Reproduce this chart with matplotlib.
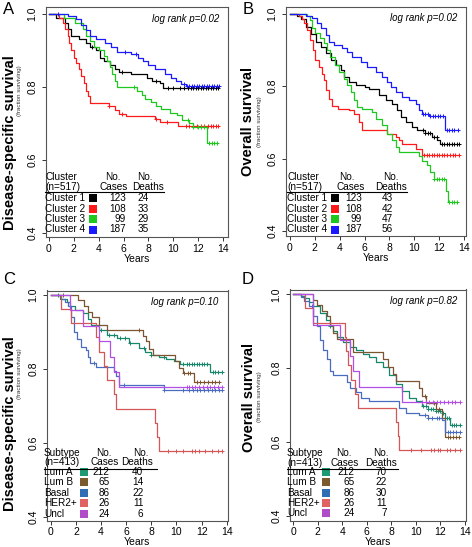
import numpy as np
import matplotlib
matplotlib.use("Agg")
import matplotlib.pyplot as plt
from matplotlib.patches import Rectangle

plt.rcParams['font.family'] = ['Liberation Sans', 'DejaVu Sans']

# ---- panel A: disease-specific survival by cluster ----
A_C1_T = [0.6, 1.3, 1.5, 1.8, 2.4, 3.0, 3.3, 3.8, 4.1, 4.4, 4.9, 5.3, 5.6, 6.6, 7.9, 8.3, 8.9, 9.2]
A_C1_S = [0.99, 0.975, 0.96, 0.94, 0.93, 0.92, 0.91, 0.90, 0.88, 0.87, 0.86, 0.85, 0.842, 0.835, 0.825, 0.817, 0.81, 0.798]
A_C1_CENS = [3.5, 5.9, 8.6, 9.6, 10.0, 10.5, 10.9, 11.2, 11.4, 11.6, 11.8, 12.0, 12.2, 12.4, 12.6, 12.8, 13.0, 13.2, 13.4, 13.6]
A_C2_T = [0.8, 1.1, 1.3, 1.5, 1.65, 1.8, 2.0, 2.2, 2.4, 2.6, 2.8, 3.0, 3.15, 3.3, 4.8, 5.3, 5.6, 6.2, 8.5, 8.9, 10.4]
A_C2_S = [0.99, 0.975, 0.96, 0.94, 0.92, 0.90, 0.88, 0.865, 0.85, 0.83, 0.81, 0.79, 0.775, 0.757, 0.748, 0.738, 0.727, 0.72, 0.712, 0.703, 0.692]
A_C2_CENS = [4.8, 5.9, 8.6, 9.5, 11.0, 11.3, 11.6, 11.9, 12.2, 12.5, 12.8, 13.0, 13.2, 13.4, 13.6]
A_C3_T = [1.2, 2.1, 2.7, 3.0, 3.3, 3.6, 4.0, 4.4, 4.7, 4.9, 5.1, 5.3, 5.45, 7.1, 7.5, 7.7, 8.2, 8.6, 9.0, 9.7, 10.3, 10.7, 11.3, 11.6, 12.7]
A_C3_S = [0.99, 0.975, 0.958, 0.94, 0.925, 0.91, 0.90, 0.885, 0.87, 0.855, 0.835, 0.815, 0.80, 0.79, 0.778, 0.768, 0.758, 0.748, 0.74, 0.73, 0.722, 0.71, 0.70, 0.69, 0.647]
A_C3_CENS = [6.8, 11.2, 11.6, 12.0, 12.2, 12.5, 12.9, 13.1, 13.3, 13.5]
A_C4_T = [1.5, 2.2, 2.6, 3.0, 3.3, 3.8, 4.5, 5.0, 5.5, 6.6, 7.2, 7.6, 8.0, 8.5, 9.3, 9.8, 10.2, 10.6, 11.0]
A_C4_S = [0.995, 0.985, 0.97, 0.955, 0.94, 0.93, 0.92, 0.91, 0.897, 0.89, 0.88, 0.87, 0.86, 0.85, 0.835, 0.825, 0.815, 0.808, 0.803]
A_C4_CENS = [0.7, 6.1, 7.0, 10.9, 11.1, 11.3, 11.5, 11.7, 11.9, 12.1, 12.3, 12.5, 12.7, 12.9, 13.1, 13.3, 13.5, 13.7]

# ---- panel B: overall survival by cluster ----
B_C1_T = [0.6, 0.9, 1.3, 1.7, 2.1, 2.5, 2.9, 3.3, 3.7, 4.1, 4.35, 4.75, 5.3, 6.0, 6.35, 7.2, 7.7, 8.2, 8.6, 8.9, 9.3, 9.8, 10.2, 10.9, 11.4, 11.85, 12.05]
B_C1_S = [0.995, 0.985, 0.965, 0.945, 0.923, 0.909, 0.891, 0.872, 0.858, 0.844, 0.826, 0.812, 0.803, 0.798, 0.791, 0.775, 0.761, 0.752, 0.733, 0.715, 0.70, 0.687, 0.678, 0.67, 0.661, 0.65, 0.641]
B_C1_CENS = [10.7, 10.9, 11.1, 11.3, 11.6, 11.8, 12.2, 12.4, 12.6, 12.8, 13.0, 13.2, 13.4, 13.6]
B_C2_T = [0.75, 1.0, 1.15, 1.4, 1.65, 1.85, 2.05, 2.3, 2.55, 2.75, 2.9, 3.1, 3.4, 3.9, 4.75, 5.15, 5.55, 5.8, 7.8, 8.5, 8.8, 9.0, 10.1, 10.65]
B_C2_S = [0.995, 0.985, 0.974, 0.956, 0.928, 0.90, 0.872, 0.854, 0.835, 0.817, 0.789, 0.766, 0.744, 0.738, 0.733, 0.724, 0.70, 0.68, 0.668, 0.66, 0.65, 0.641, 0.627, 0.611]
B_C2_CENS = [10.8, 11.0, 11.2, 11.4, 11.6, 11.8, 12.0, 12.2, 12.4, 12.6, 12.9, 13.1, 13.3, 13.6]
B_C3_T = [1.4, 1.6, 1.8, 2.05, 2.45, 2.75, 3.0, 3.25, 3.65, 3.95, 4.35, 4.6, 4.9, 5.15, 5.4, 5.8, 6.6, 6.9, 7.4, 7.8, 8.2, 8.5, 8.8, 10.4, 10.65, 11.0, 11.3, 11.6, 12.55, 12.7]
B_C3_S = [0.995, 0.983, 0.96, 0.946, 0.932, 0.919, 0.90, 0.881, 0.858, 0.84, 0.821, 0.803, 0.784, 0.761, 0.743, 0.738, 0.729, 0.71, 0.692, 0.669, 0.65, 0.631, 0.618, 0.608, 0.594, 0.581, 0.562, 0.544, 0.511, 0.48]
B_C3_CENS = [11.6, 11.8, 12.0, 12.2, 12.4, 12.8, 13.0, 13.2, 13.4]
B_C4_T = [1.3, 1.8, 2.2, 2.5, 2.9, 3.15, 3.55, 4.2, 4.6, 5.0, 5.7, 6.2, 6.9, 7.4, 7.8, 8.1, 8.5, 9.0, 9.6, 10.1, 10.4, 10.65, 11.2, 12.5]
B_C4_S = [0.995, 0.988, 0.974, 0.96, 0.942, 0.923, 0.914, 0.905, 0.895, 0.881, 0.868, 0.854, 0.84, 0.826, 0.812, 0.798, 0.784, 0.77, 0.761, 0.752, 0.733, 0.724, 0.717, 0.678]
B_C4_CENS = [10.7, 10.9, 11.1, 11.3, 11.5, 11.7, 11.9, 12.1, 12.3, 12.6, 12.8, 13.0, 13.2, 13.5]

# ---- panel C: disease-specific survival by subtype ----
C_LUMA_T = [0.7, 1.3, 1.5, 1.9, 2.6, 3.0, 3.2, 3.8, 4.5, 5.3, 6.2, 7.0, 7.5, 8.0, 8.6, 9.2, 9.8, 10.3, 12.7]
C_LUMA_S = [0.99, 0.982, 0.97, 0.96, 0.952, 0.935, 0.92, 0.905, 0.892, 0.883, 0.869, 0.856, 0.845, 0.838, 0.832, 0.826, 0.82, 0.814, 0.791]
C_LUMA_CENS = [0.6, 4.0, 4.6, 5.0, 5.5, 5.9, 6.3, 7.4, 8.0, 9.0, 10.5, 10.8, 11.0, 11.2, 11.4, 11.6, 11.8, 12.0, 12.2, 12.4, 12.9, 13.1, 13.3, 13.6]
C_LUMB_T = [2.2, 2.65, 3.0, 3.3, 3.85, 4.5, 7.3, 7.55, 7.8, 8.1, 9.9, 10.2, 10.5, 11.4]
C_LUMB_S = [0.985, 0.97, 0.955, 0.94, 0.92, 0.905, 0.89, 0.875, 0.855, 0.838, 0.82, 0.803, 0.788, 0.765]
C_LUMB_CENS = [1.0, 7.0, 10.6, 10.9, 11.1, 11.6, 11.9, 12.2, 12.5, 12.8, 13.1, 13.4]
C_BASAL_T = [0.8, 1.1, 1.35, 1.6, 1.85, 2.1, 2.4, 2.8, 2.95, 3.1, 3.6, 5.0, 5.2, 5.45, 9.0]
C_BASAL_S = [0.99, 0.98, 0.97, 0.94, 0.90, 0.88, 0.86, 0.85, 0.833, 0.815, 0.806, 0.795, 0.78, 0.757, 0.743]
C_BASAL_CENS = [3.4, 5.8, 9.0, 10.5, 11.0, 11.3, 11.6, 11.9, 12.2, 12.5, 12.8, 13.1, 13.4, 13.6]
C_HER2_T = [0.85, 1.6, 3.6, 3.85, 4.2, 4.5, 5.0, 5.2, 8.3, 8.45, 8.6]
C_HER2_S = [0.962, 0.923, 0.885, 0.846, 0.808, 0.769, 0.731, 0.692, 0.654, 0.615, 0.577]
C_HER2_CENS = [9.3, 10.0, 10.5, 11.2, 11.5, 11.8, 12.3, 12.8, 13.3, 13.6]
C_UNCL_T = [1.5, 2.6, 3.8, 4.7, 5.0, 5.4]
C_UNCL_S = [0.958, 0.917, 0.875, 0.833, 0.792, 0.75]
C_UNCL_CENS = [10.8, 11.0, 11.2, 11.5, 11.8, 12.1, 12.4, 12.7, 13.0, 13.3, 13.6]

# ---- panel D: overall survival by subtype ----
D_LUMA_T = [0.6, 0.9, 1.25, 1.65, 2.2, 2.7, 3.0, 3.25, 3.55, 4.05, 4.6, 5.15, 5.7, 6.2, 6.75, 7.3, 7.8, 8.35, 8.9, 9.45, 10.0, 10.5, 11.0, 11.6, 12.1, 12.4, 12.8]
D_LUMA_S = [0.995, 0.99, 0.98, 0.968, 0.95, 0.931, 0.915, 0.9, 0.885, 0.871, 0.858, 0.848, 0.839, 0.83, 0.816, 0.803, 0.78, 0.757, 0.738, 0.72, 0.711, 0.697, 0.688, 0.683, 0.679, 0.665, 0.646]
D_LUMA_CENS = [3.0, 10.6, 10.8, 11.0, 11.2, 11.4, 11.6, 11.8, 12.0, 12.2, 12.5, 12.7, 12.9, 13.1, 13.3, 13.6]
D_LUMB_T = [1.65, 1.95, 2.35, 2.75, 3.0, 3.25, 3.55, 4.9, 7.3, 7.7, 8.1, 8.35, 10.25, 10.5, 10.8, 11.6, 12.1, 12.4]
D_LUMB_S = [0.985, 0.97, 0.955, 0.94, 0.917, 0.894, 0.88, 0.844, 0.826, 0.803, 0.784, 0.766, 0.747, 0.725, 0.706, 0.688, 0.665, 0.614]
D_LUMB_CENS = [10.7, 11.5, 11.9, 12.6, 12.8, 13.0, 13.3, 13.5]
D_BASAL_T = [0.6, 0.85, 1.25, 1.65, 1.95, 2.2, 2.45, 2.75, 3.0, 3.25, 4.35, 4.6, 5.15, 5.55, 6.2, 8.6, 9.2, 10.25, 11.0, 12.1, 12.4]
D_BASAL_S = [0.993, 0.982, 0.968, 0.94, 0.913, 0.876, 0.848, 0.826, 0.793, 0.78, 0.761, 0.747, 0.734, 0.72, 0.711, 0.692, 0.679, 0.674, 0.665, 0.66, 0.628]
D_BASAL_CENS = [1.5, 10.7, 11.0, 11.3, 11.7, 11.9, 12.6, 12.8, 13.0, 13.3, 13.6]
D_HER2_T = [1.0, 1.65, 4.2, 4.3, 4.5, 4.75, 5.0, 5.3, 8.35, 8.5, 8.63]
D_HER2_S = [0.962, 0.923, 0.885, 0.846, 0.808, 0.769, 0.731, 0.692, 0.654, 0.615, 0.577]
D_HER2_CENS = [9.6, 10.4, 11.2, 11.5, 11.8, 12.0, 12.5, 12.8, 13.2, 13.6]
D_UNCL_T = [1.6, 3.8, 4.6, 4.9, 5.4, 8.9]
D_UNCL_S = [0.917, 0.875, 0.833, 0.792, 0.75, 0.708]
D_UNCL_CENS = [10.5, 10.8, 11.1, 11.4, 11.7, 12.0, 12.3, 12.6, 12.9, 13.2, 13.6]

# ---- legend tables ----
CLUSTER_LABELS = ["Cluster 1", "Cluster 2", "Cluster 3", "Cluster 4"]
CLUSTER_CASES = [123, 108, 99, 187]
A_DEATHS = [24, 33, 29, 35]
B_DEATHS = [43, 42, 47, 56]
SUBTYPE_LABELS = ["Lum A", "Lum B", "Basal", "HER2+", "Uncl"]
SUBTYPE_CASES = [212, 65, 86, 26, 24]
C_DEATHS = [40, 14, 22, 11, 6]
D_DEATHS = [70, 22, 30, 11, 7]
PVALS = ["0.02", "0.02", "0.10", "0.82"]

CLUSTER_COLORS = ["black", "#ff1a1a", "#1ec81e", "#1a1aff"]
SUBTYPE_LINE = ["#17876c", "#7a5530", "#4a6cc0", "#d45656", "#b34fe6"]
SUBTYPE_BOX = ["#1c9a72", "#7b5b2e", "#2f6db5", "#e06262", "#b04cc8"]

W, H = 472, 547
fig = plt.figure(figsize=(W / 100, H / 100), dpi=100)


def fx(x):
    return x / W


def fy(y):
    return 1 - y / H


def add_panel(left, top, right, bottom, xlim, ylim):
    ax = fig.add_axes([fx(left), fy(bottom), (right - left) / W, (bottom - top) / H])
    ax.set_xlim(*xlim)
    ax.set_ylim(*ylim)
    ax.set_xticks(range(0, 15, 2))
    ax.set_yticks([0.4, 0.6, 0.8, 1.0])
    ax.set_yticklabels(["0.4", "0.6", "0.8", "1.0"])
    ax.tick_params(direction="out", length=3, width=0.7, labelsize=7.5, pad=2, color="#333333")
    ax.tick_params(axis="y", labelrotation=90, pad=3)
    for lab in ax.get_yticklabels():
        lab.set_va("center")
    for sp in ax.spines.values():
        sp.set_color("#555555")
        sp.set_linewidth(0.8)
    ax.set_xlabel("Years", fontsize=7.5, labelpad=0)
    return ax


def km(ax, t, s, cens, color):
    t = np.asarray(t)
    s = np.asarray(s)
    end = max(max(cens), t[-1])
    ax.step(np.r_[0, t, end], np.r_[1, s, s[-1]], where="post", color=color, lw=0.9)
    idx = np.searchsorted(t, cens, side="right")
    ax.plot(cens, np.r_[1, s][idx], "+", color=color, ms=3.5, mew=0.7, ls="none")


def table(pos, title, ntext, labels, colors, cases, deaths):
    fs = 7.2
    x0 = pos["x0"]
    fig.text(fx(x0), fy(pos["h1"]), title, fontsize=fs, va="center")
    fig.text(fx(x0), fy(pos["h2"]), ntext, fontsize=fs, va="center")
    fig.text(fx(pos["no1"]), fy(pos["h1"]), "No.", fontsize=fs, va="center", ha="center")
    fig.text(fx(pos["cases_h"]), fy(pos["h2"]), "Cases", fontsize=fs, va="center", ha="center")
    fig.text(fx(pos["no2"]), fy(pos["h1"]), "No.", fontsize=fs, va="center", ha="center")
    fig.text(fx(pos["deaths_h"]), fy(pos["h2"]), "Deaths", fontsize=fs, va="center", ha="center")
    fig.add_artist(plt.Line2D([fx(x0), fx(pos["line_end"])], [fy(pos["line"])] * 2,
                              color="black", lw=0.8, transform=fig.transFigure))
    for i, lab in enumerate(labels):
        y = pos["row0"] + i * pos["dy"]
        fig.text(fx(x0), fy(y), lab, fontsize=fs, va="center")
        fig.add_artist(Rectangle((fx(pos["sq"] - 4), fy(y + 4)), 8 / W, 8 / H,
                                 facecolor=colors[i], edgecolor="none", transform=fig.transFigure))
        fig.text(fx(pos["cases"]), fy(y), str(cases[i]), fontsize=fs, va="center", ha="right")
        fig.text(fx(pos["deaths"]), fy(y), str(deaths[i]), fontsize=fs, va="center", ha="right")


# panel A
axA = add_panel(46, 7, 228, 237, (-0.24, 14.4), (0.389, 1.019))
for t, s, c, col in [(A_C1_T, A_C1_S, A_C1_CENS, CLUSTER_COLORS[0]),
                     (A_C2_T, A_C2_S, A_C2_CENS, CLUSTER_COLORS[1]),
                     (A_C3_T, A_C3_S, A_C3_CENS, CLUSTER_COLORS[2]),
                     (A_C4_T, A_C4_S, A_C4_CENS, CLUSTER_COLORS[3])]:
    km(axA, t, s, c, col)

# panel B
axB = add_panel(286, 7, 466, 236, (-0.32, 14.16), (0.386, 1.019))
for t, s, c, col in [(B_C1_T, B_C1_S, B_C1_CENS, CLUSTER_COLORS[0]),
                     (B_C2_T, B_C2_S, B_C2_CENS, CLUSTER_COLORS[1]),
                     (B_C3_T, B_C3_S, B_C3_CENS, CLUSTER_COLORS[2]),
                     (B_C4_T, B_C4_S, B_C4_CENS, CLUSTER_COLORS[3])]:
    km(axB, t, s, c, col)

# panel C
axC = add_panel(46.5, 290.5, 227.5, 520.5, (-0.34, 14.06), (0.39, 1.012))
for t, s, c, col in [(C_LUMA_T, C_LUMA_S, C_LUMA_CENS, SUBTYPE_LINE[0]),
                     (C_LUMB_T, C_LUMB_S, C_LUMB_CENS, SUBTYPE_LINE[1]),
                     (C_BASAL_T, C_BASAL_S, C_BASAL_CENS, SUBTYPE_LINE[2]),
                     (C_HER2_T, C_HER2_S, C_HER2_CENS, SUBTYPE_LINE[3]),
                     (C_UNCL_T, C_UNCL_S, C_UNCL_CENS, SUBTYPE_LINE[4])]:
    km(axC, t, s, c, col)

# panel D
axD = add_panel(289.5, 289.5, 466, 520.5, (-0.3, 14.08), (0.387, 1.013))
for t, s, c, col in [(D_LUMA_T, D_LUMA_S, D_LUMA_CENS, SUBTYPE_LINE[0]),
                     (D_LUMB_T, D_LUMB_S, D_LUMB_CENS, SUBTYPE_LINE[1]),
                     (D_BASAL_T, D_BASAL_S, D_BASAL_CENS, SUBTYPE_LINE[2]),
                     (D_HER2_T, D_HER2_S, D_HER2_CENS, SUBTYPE_LINE[3]),
                     (D_UNCL_T, D_UNCL_S, D_UNCL_CENS, SUBTYPE_LINE[4])]:
    km(axD, t, s, c, col)

# p-values
for ax, p in zip([axA, axB, axC, axD], PVALS):
    ax.text(0.95, 0.95, "log rank p=" + p, transform=ax.transAxes, ha="right", va="center",
            fontsize=7, style="italic")

# panel letters and y labels
for letter, x, y in [("A", 9, 9), ("B", 248, 9), ("C", 9, 279), ("D", 248, 279)]:
    fig.text(fx(x), fy(y), letter, fontsize=12, ha="center", va="center")

for text, x, y in [("Disease-specific survival", 10, 143), ("Overall survival", 248, 122),
                   ("Disease-specific survival", 10, 424), ("Overall survival", 249, 398)]:
    fig.text(fx(x), fy(y), text, fontsize=10.5, fontweight="bold", rotation=90,
             ha="center", va="center")
for x, y in [(20, 91), (260, 122), (20, 374), (260, 397)]:
    fig.text(fx(x), fy(y), "(fraction surviving)", fontsize=4.5, rotation=90,
             ha="center", va="center", color="#333333")

# tables
table(dict(x0=45, h1=177, h2=186.5, no1=113, cases_h=114, no2=145, deaths_h=148, line=192,
           line_end=164, row0=198, dy=10.5, sq=92.5, cases=126, deaths=149),
      "Cluster", "(n=517)", CLUSTER_LABELS, CLUSTER_COLORS, CLUSTER_CASES, A_DEATHS)
table(dict(x0=287, h1=177, h2=186.5, no1=347, cases_h=351, no2=391, deaths_h=391, line=192,
           line_end=407, row0=198.3, dy=10.4, sq=335, cases=362, deaths=393),
      "Cluster", "(n=517)", CLUSTER_LABELS, CLUSTER_COLORS, CLUSTER_CASES, B_DEATHS)
table(dict(x0=44, h1=452.5, h2=462, no1=104, cases_h=104.5, no2=141, deaths_h=137, line=469,
           line_end=157, row0=472, dy=10.4, sq=84, cases=109.5, deaths=143.5),
      "Subtype", "(n=413)", SUBTYPE_LABELS, SUBTYPE_BOX, SUBTYPE_CASES, C_DEATHS)
table(dict(x0=287, h1=453.5, h2=462.5, no1=343.5, cases_h=345, no2=381, deaths_h=381.5, line=469,
           line_end=398, row0=472.2, dy=10.2, sq=326, cases=354.5, deaths=387),
      "Subtype", "(n=413)", SUBTYPE_LABELS, SUBTYPE_BOX, SUBTYPE_CASES, D_DEATHS)

fig.savefig("out.png", dpi=100)
